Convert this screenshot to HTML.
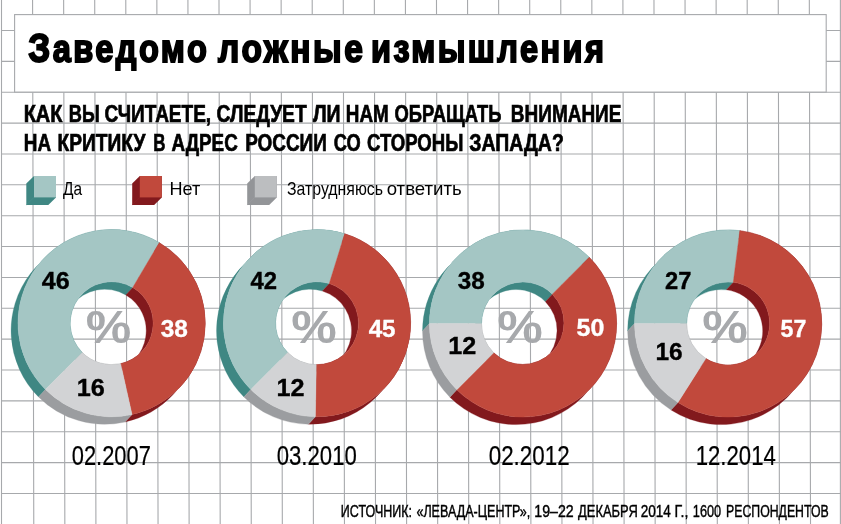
<!DOCTYPE html>
<html lang="ru"><head><meta charset="utf-8"><title>Заведомо ложные измышления</title>
<style>
html,body{margin:0;padding:0;background:#fff}
svg{display:block}
text{font-family:"Liberation Sans",sans-serif;}
</style></head><body>
<svg width="841" height="524" viewBox="0 0 841 524">
<path d="M1.50 0L1.50 524M32.57 0L33.77 524M63.64 0L64.84 524M94.71 0L95.91 524M125.78 0L126.98 524M156.85 0L158.05 524M187.92 0L189.12 524M218.99 0L220.19 524M250.06 0L251.26 524M281.13 0L282.33 524M312.20 0L313.40 524M343.27 0L344.47 524M374.34 0L375.54 524M405.41 0L406.61 524M436.48 0L437.68 524M467.55 0L468.75 524M498.62 0L499.82 524M529.69 0L530.89 524M560.76 0L561.96 524M591.83 0L593.03 524M622.90 0L624.10 524M653.97 0L655.17 524M685.04 0L686.24 524M716.11 0L717.31 524M747.18 0L748.38 524M778.25 0L779.45 524M809.32 0L810.52 524M840.39 0L840.39 524M1.5 30.47H841M1.5 61.34H841M1.5 92.21H841M1.5 123.08H841M1.5 153.95H841M1.5 184.82H841M1.5 215.69H841M1.5 246.56H841M1.5 277.43H841M1.5 308.30H841M1.5 339.17H841M1.5 370.04H841M1.5 400.91H841M1.5 431.78H841M1.5 462.65H841M1.5 493.52H841" stroke="#a7a9ac" stroke-width="1.1" fill="none"/>
<rect x="14.6" y="14.6" width="811.6" height="77.5" fill="#fff" stroke="#a7a9ac" stroke-width="1.1"/>
<polygon points="34.0,176.0 56.0,176.0 56.0,197.4 48.3,204.9 26.3,204.9 26.3,183.5" fill="#3f8783"/><path d="M34.0 197.4L26.3 204.9" stroke="#4a918d" stroke-width="0.6"/><rect x="34.0" y="176.0" width="22.0" height="21.4" fill="#a4c6c4"/>
<polygon points="139.8,176.0 161.8,176.0 161.8,197.4 154.2,204.9 132.2,204.9 132.2,183.5" fill="#82191d"/><path d="M139.8 197.4L132.2 204.9" stroke="#8d2226" stroke-width="0.6"/><rect x="139.8" y="176.0" width="22.0" height="21.4" fill="#c1493c"/>
<polygon points="254.8,176.0 276.8,176.0 276.8,197.4 269.2,204.9 247.2,204.9 247.2,183.5" fill="#939598"/><path d="M254.8 197.4L247.2 204.9" stroke="#9c9ea1" stroke-width="0.6"/><rect x="254.8" y="176.0" width="22.0" height="21.4" fill="#bcbec0"/>
<g class="donut d1"><path d="M45.41 389.39A93.6 93.6 0 0 1 159.25 242.63L152.35 250.13A93.6 93.6 0 0 0 38.51 396.89ZM82.26 352.54A41.5 41.5 0 0 1 132.73 287.48L125.83 294.98A41.5 41.5 0 0 0 75.36 360.04Z" fill="#3f8783" stroke="#3f8783" stroke-width="0.3" stroke-linejoin="round"/><path d="M159.25 242.63A93.6 93.6 0 0 1 132.02 414.55L125.12 422.05A93.6 93.6 0 0 0 152.35 250.13ZM132.73 287.48A41.5 41.5 0 0 1 120.65 363.70L113.75 371.20A41.5 41.5 0 0 0 125.83 294.98Z" fill="#82191d" stroke="#82191d" stroke-width="0.3" stroke-linejoin="round"/><path d="M132.02 414.55A93.6 93.6 0 0 1 45.41 389.39L38.51 396.89A93.6 93.6 0 0 0 125.12 422.05ZM120.65 363.70A41.5 41.5 0 0 1 82.26 352.54L75.36 360.04A41.5 41.5 0 0 0 113.75 371.20Z" fill="#9b9da0" stroke="#9b9da0" stroke-width="0.3" stroke-linejoin="round"/><path d="M45.41 389.39A93.6 93.6 0 0 1 159.25 242.63L132.73 287.48A41.5 41.5 0 0 0 82.26 352.54Z" fill="#a4c6c4" stroke="#a4c6c4" stroke-width="0.4" stroke-linejoin="round"/><path d="M159.25 242.63A93.6 93.6 0 0 1 132.02 414.55L120.65 363.70A41.5 41.5 0 0 0 132.73 287.48Z" fill="#c1493c" stroke="#c1493c" stroke-width="0.4" stroke-linejoin="round"/><path d="M132.02 414.55A93.6 93.6 0 0 1 45.41 389.39L82.26 352.54A41.5 41.5 0 0 0 120.65 363.70Z" fill="#d2d3d5" stroke="#d2d3d5" stroke-width="0.4" stroke-linejoin="round"/></g>
<g class="donut d2"><path d="M250.81 389.39A93.6 93.6 0 0 1 344.68 233.79L337.78 241.29A93.6 93.6 0 0 0 243.91 396.89ZM287.66 352.54A41.5 41.5 0 0 1 329.27 283.56L322.37 291.06A41.5 41.5 0 0 0 280.76 360.04Z" fill="#3f8783" stroke="#3f8783" stroke-width="0.3" stroke-linejoin="round"/><path d="M344.68 233.79A93.6 93.6 0 0 1 315.37 416.79L308.47 424.29A93.6 93.6 0 0 0 337.78 241.29ZM329.27 283.56A41.5 41.5 0 0 1 316.28 364.69L309.38 372.19A41.5 41.5 0 0 0 322.37 291.06Z" fill="#82191d" stroke="#82191d" stroke-width="0.3" stroke-linejoin="round"/><path d="M315.37 416.79A93.6 93.6 0 0 1 250.81 389.39L243.91 396.89A93.6 93.6 0 0 0 308.47 424.29ZM316.28 364.69A41.5 41.5 0 0 1 287.66 352.54L280.76 360.04A41.5 41.5 0 0 0 309.38 372.19Z" fill="#9b9da0" stroke="#9b9da0" stroke-width="0.3" stroke-linejoin="round"/><path d="M250.81 389.39A93.6 93.6 0 0 1 344.68 233.79L329.27 283.56A41.5 41.5 0 0 0 287.66 352.54Z" fill="#a4c6c4" stroke="#a4c6c4" stroke-width="0.4" stroke-linejoin="round"/><path d="M344.68 233.79A93.6 93.6 0 0 1 315.37 416.79L316.28 364.69A41.5 41.5 0 0 0 329.27 283.56Z" fill="#c1493c" stroke="#c1493c" stroke-width="0.4" stroke-linejoin="round"/><path d="M315.37 416.79A93.6 93.6 0 0 1 250.81 389.39L287.66 352.54A41.5 41.5 0 0 0 316.28 364.69Z" fill="#d2d3d5" stroke="#d2d3d5" stroke-width="0.4" stroke-linejoin="round"/></g>
<g class="donut d3"><path d="M429.40 323.50A93.6 93.6 0 0 1 589.19 257.31L582.29 264.81A93.6 93.6 0 0 0 422.50 331.00ZM481.50 323.50A41.5 41.5 0 0 1 552.34 294.16L545.44 301.66A41.5 41.5 0 0 0 474.60 331.00Z" fill="#3f8783" stroke="#3f8783" stroke-width="0.3" stroke-linejoin="round"/><path d="M589.19 257.31A93.6 93.6 0 0 1 456.81 389.69L449.91 397.19A93.6 93.6 0 0 0 582.29 264.81ZM552.34 294.16A41.5 41.5 0 0 1 493.66 352.84L486.76 360.34A41.5 41.5 0 0 0 545.44 301.66Z" fill="#82191d" stroke="#82191d" stroke-width="0.3" stroke-linejoin="round"/><path d="M456.81 389.69A93.6 93.6 0 0 1 429.40 323.50L422.50 331.00A93.6 93.6 0 0 0 449.91 397.19ZM493.66 352.84A41.5 41.5 0 0 1 481.50 323.50L474.60 331.00A41.5 41.5 0 0 0 486.76 360.34Z" fill="#9b9da0" stroke="#9b9da0" stroke-width="0.3" stroke-linejoin="round"/><path d="M429.40 323.50A93.6 93.6 0 0 1 589.19 257.31L552.34 294.16A41.5 41.5 0 0 0 481.50 323.50Z" fill="#a4c6c4" stroke="#a4c6c4" stroke-width="0.4" stroke-linejoin="round"/><path d="M589.19 257.31A93.6 93.6 0 0 1 456.81 389.69L493.66 352.84A41.5 41.5 0 0 0 552.34 294.16Z" fill="#c1493c" stroke="#c1493c" stroke-width="0.4" stroke-linejoin="round"/><path d="M456.81 389.69A93.6 93.6 0 0 1 429.40 323.50L481.50 323.50A41.5 41.5 0 0 0 493.66 352.84Z" fill="#d2d3d5" stroke="#d2d3d5" stroke-width="0.4" stroke-linejoin="round"/></g>
<g class="donut d4"><path d="M634.50 323.50A93.6 93.6 0 0 1 739.83 230.64L732.93 238.14A93.6 93.6 0 0 0 627.60 331.00ZM686.60 323.50A41.5 41.5 0 0 1 733.30 282.33L726.40 289.83A41.5 41.5 0 0 0 679.70 331.00Z" fill="#3f8783" stroke="#3f8783" stroke-width="0.3" stroke-linejoin="round"/><path d="M739.83 230.64A93.6 93.6 0 1 1 677.95 402.53L671.05 410.03A93.6 93.6 0 1 0 732.93 238.14ZM733.30 282.33A41.5 41.5 0 1 1 705.86 358.54L698.96 366.04A41.5 41.5 0 1 0 726.40 289.83Z" fill="#82191d" stroke="#82191d" stroke-width="0.3" stroke-linejoin="round"/><path d="M677.95 402.53A93.6 93.6 0 0 1 634.50 323.50L627.60 331.00A93.6 93.6 0 0 0 671.05 410.03ZM705.86 358.54A41.5 41.5 0 0 1 686.60 323.50L679.70 331.00A41.5 41.5 0 0 0 698.96 366.04Z" fill="#9b9da0" stroke="#9b9da0" stroke-width="0.3" stroke-linejoin="round"/><path d="M634.50 323.50A93.6 93.6 0 0 1 739.83 230.64L733.30 282.33A41.5 41.5 0 0 0 686.60 323.50Z" fill="#a4c6c4" stroke="#a4c6c4" stroke-width="0.4" stroke-linejoin="round"/><path d="M739.83 230.64A93.6 93.6 0 1 1 677.95 402.53L705.86 358.54A41.5 41.5 0 1 0 733.30 282.33Z" fill="#c1493c" stroke="#c1493c" stroke-width="0.4" stroke-linejoin="round"/><path d="M677.95 402.53A93.6 93.6 0 0 1 634.50 323.50L686.60 323.50A41.5 41.5 0 0 0 705.86 358.54Z" fill="#d2d3d5" stroke="#d2d3d5" stroke-width="0.4" stroke-linejoin="round"/></g>
<g class="title"><text transform="translate(28.16 62.05) scale(0.8553 1)" font-size="38.08" font-weight="bold" fill="#000" stroke="#000" stroke-width="1.90" letter-spacing="2.86"><tspan font-size="1.08em">З</tspan>аведомо</text>
<text transform="translate(218.10 62.05) scale(0.8799 1)" font-size="38.08" font-weight="bold" fill="#000" stroke="#000" stroke-width="1.90" letter-spacing="2.86">ложные</text>
<text transform="translate(371.04 62.05) scale(0.8532 1)" font-size="38.08" font-weight="bold" fill="#000" stroke="#000" stroke-width="1.90" letter-spacing="2.86">измышления</text></g>
<g class="q1"><text transform="translate(23.70 122.15) scale(0.8628 1)" font-size="23.12" font-weight="bold" fill="#000" stroke="#000" stroke-width="0.69">КАК</text>
<text transform="translate(68.79 122.15) scale(0.7867 1)" font-size="23.12" font-weight="bold" fill="#000" stroke="#000" stroke-width="0.69">ВЫ</text>
<text transform="translate(104.42 122.15) scale(0.8236 1)" font-size="23.12" font-weight="bold" fill="#000" stroke="#000" stroke-width="0.69">СЧИТАЕТЕ,</text>
<text transform="translate(216.52 122.15) scale(0.8317 1)" font-size="23.12" font-weight="bold" fill="#000" stroke="#000" stroke-width="0.69">СЛЕДУЕТ</text>
<text transform="translate(312.89 122.15) scale(0.8431 1)" font-size="23.12" font-weight="bold" fill="#000" stroke="#000" stroke-width="0.69">ЛИ</text>
<text transform="translate(345.86 122.15) scale(0.8153 1)" font-size="23.12" font-weight="bold" fill="#000" stroke="#000" stroke-width="0.69">НАМ</text>
<text transform="translate(394.54 122.15) scale(0.7954 1)" font-size="23.12" font-weight="bold" fill="#000" stroke="#000" stroke-width="0.69">ОБРАЩАТЬ</text>
<text transform="translate(510.85 122.15) scale(0.8214 1)" font-size="23.12" font-weight="bold" fill="#000" stroke="#000" stroke-width="0.69">ВНИМАНИЕ</text></g>
<g class="q2"><text transform="translate(23.75 151.45) scale(0.8184 1)" font-size="23.12" font-weight="bold" fill="#000" stroke="#000" stroke-width="0.69">НА</text>
<text transform="translate(57.54 151.45) scale(0.8291 1)" font-size="23.12" font-weight="bold" fill="#000" stroke="#000" stroke-width="0.69">КРИТИКУ</text>
<text transform="translate(153.16 151.45) scale(0.7299 1)" font-size="23.12" font-weight="bold" fill="#000" stroke="#000" stroke-width="0.69">В</text>
<text transform="translate(171.41 151.45) scale(0.8134 1)" font-size="23.12" font-weight="bold" fill="#000" stroke="#000" stroke-width="0.69">АДРЕС</text>
<text transform="translate(245.25 151.45) scale(0.8178 1)" font-size="23.12" font-weight="bold" fill="#000" stroke="#000" stroke-width="0.69">РОССИИ</text>
<text transform="translate(333.74 151.45) scale(0.7892 1)" font-size="23.12" font-weight="bold" fill="#000" stroke="#000" stroke-width="0.69">СО</text>
<text transform="translate(366.94 151.45) scale(0.8033 1)" font-size="23.12" font-weight="bold" fill="#000" stroke="#000" stroke-width="0.69">СТОРОНЫ</text>
<text transform="translate(469.20 151.45) scale(0.8426 1)" font-size="23.12" font-weight="bold" fill="#000" stroke="#000" stroke-width="0.69">ЗАПАДА?</text></g>
<g class="lg1"><text transform="translate(62.92 194.60) scale(0.8783 1)" font-size="17.59" font-weight="normal" fill="#000">Да</text></g>
<g class="lg2"><text transform="translate(169.55 194.60) scale(1.0274 1)" font-size="17.59" font-weight="normal" fill="#000">Нет</text></g>
<g class="lg3"><text transform="translate(286.94 194.60) scale(0.9023 1)" font-size="17.59" font-weight="normal" fill="#000">Затрудняюсь</text>
<text transform="translate(386.65 194.60) scale(1.0595 1)" font-size="17.59" font-weight="normal" fill="#000">ответить</text></g>
<g class="num"><text transform="translate(41.85 289.42) scale(1.0701 1)" font-size="23.47" font-weight="bold" fill="#000" stroke="#000" stroke-width="0.35">46</text>
<text transform="translate(160.63 336.62) scale(1.0404 1)" font-size="23.47" font-weight="bold" fill="#fff" stroke="#fff" stroke-width="0.35">38</text>
<text transform="translate(76.71 396.02) scale(1.0755 1)" font-size="23.47" font-weight="bold" fill="#000" stroke="#000" stroke-width="0.35">16</text>
<text transform="translate(250.56 289.22) scale(1.0154 1)" font-size="23.47" font-weight="bold" fill="#000" stroke="#000" stroke-width="0.35">42</text>
<text transform="translate(368.66 336.62) scale(1.0296 1)" font-size="23.47" font-weight="bold" fill="#fff" stroke="#fff" stroke-width="0.35">45</text>
<text transform="translate(276.52 395.92) scale(1.0724 1)" font-size="23.47" font-weight="bold" fill="#000" stroke="#000" stroke-width="0.35">12</text>
<text transform="translate(457.74 289.22) scale(1.0344 1)" font-size="23.47" font-weight="bold" fill="#000" stroke="#000" stroke-width="0.35">38</text>
<text transform="translate(448.22 353.62) scale(1.0724 1)" font-size="23.47" font-weight="bold" fill="#000" stroke="#000" stroke-width="0.35">12</text>
<text transform="translate(576.47 336.42) scale(1.0662 1)" font-size="23.47" font-weight="bold" fill="#fff" stroke="#fff" stroke-width="0.35">50</text>
<text transform="translate(665.01 289.22) scale(1.0104 1)" font-size="23.47" font-weight="bold" fill="#000" stroke="#000" stroke-width="0.35">27</text>
<text transform="translate(655.45 359.62) scale(1.0424 1)" font-size="23.47" font-weight="bold" fill="#000" stroke="#000" stroke-width="0.35">16</text>
<text transform="translate(780.52 336.62) scale(0.9860 1)" font-size="23.47" font-weight="bold" fill="#fff" stroke="#fff" stroke-width="0.35">57</text></g>
<g class="pct"><text transform="translate(85.82 342.55) scale(1.1278 1)" font-size="45.39" font-weight="bold" fill="#a7a9ac">%</text>
<text transform="translate(291.22 342.55) scale(1.1278 1)" font-size="45.39" font-weight="bold" fill="#a7a9ac">%</text>
<text transform="translate(497.22 342.55) scale(1.1278 1)" font-size="45.39" font-weight="bold" fill="#a7a9ac">%</text>
<text transform="translate(702.32 342.55) scale(1.1278 1)" font-size="45.39" font-weight="bold" fill="#a7a9ac">%</text></g>
<g class="date"><text transform="translate(71.73 464.89) scale(0.8021 1)" font-size="27.30" font-weight="normal" fill="#000" stroke="#000" stroke-width="0.22">02.2007</text>
<text transform="translate(276.72 464.89) scale(0.8122 1)" font-size="27.30" font-weight="normal" fill="#000" stroke="#000" stroke-width="0.22">03.2010</text>
<text transform="translate(488.72 464.89) scale(0.8197 1)" font-size="27.30" font-weight="normal" fill="#000" stroke="#000" stroke-width="0.22">02.2012</text>
<text transform="translate(695.65 464.89) scale(0.8128 1)" font-size="27.30" font-weight="normal" fill="#000" stroke="#000" stroke-width="0.22">12.2014</text></g>
<g class="src"><text transform="translate(340.83 516.50) scale(0.7675 1)" font-size="16.27" font-weight="normal" fill="#000" stroke="#000" stroke-width="0.41">ИСТОЧНИК:</text>
<text transform="translate(416.42 516.50) scale(0.7716 1)" font-size="16.27" font-weight="normal" fill="#000" stroke="#000" stroke-width="0.41">«ЛЕВАДА-ЦЕНТР»,</text>
<text transform="translate(534.28 516.50) scale(0.8715 1)" font-size="16.27" font-weight="normal" fill="#000" stroke="#000" stroke-width="0.41">19–22</text>
<text transform="translate(578.06 516.50) scale(0.7948 1)" font-size="16.27" font-weight="normal" fill="#000" stroke="#000" stroke-width="0.41">ДЕКАБРЯ</text>
<text transform="translate(640.66 516.50) scale(0.8328 1)" font-size="16.27" font-weight="normal" fill="#000" stroke="#000" stroke-width="0.41">2014</text>
<text transform="translate(674.60 516.50) scale(0.8738 1)" font-size="16.27" font-weight="normal" fill="#000" stroke="#000" stroke-width="0.41">Г.,</text>
<text transform="translate(692.87 516.50) scale(0.7831 1)" font-size="16.27" font-weight="normal" fill="#000" stroke="#000" stroke-width="0.41">1600</text>
<text transform="translate(726.04 516.50) scale(0.7564 1)" font-size="16.27" font-weight="normal" fill="#000" stroke="#000" stroke-width="0.41">РЕСПОНДЕНТОВ</text></g>
</svg>
</body></html>
